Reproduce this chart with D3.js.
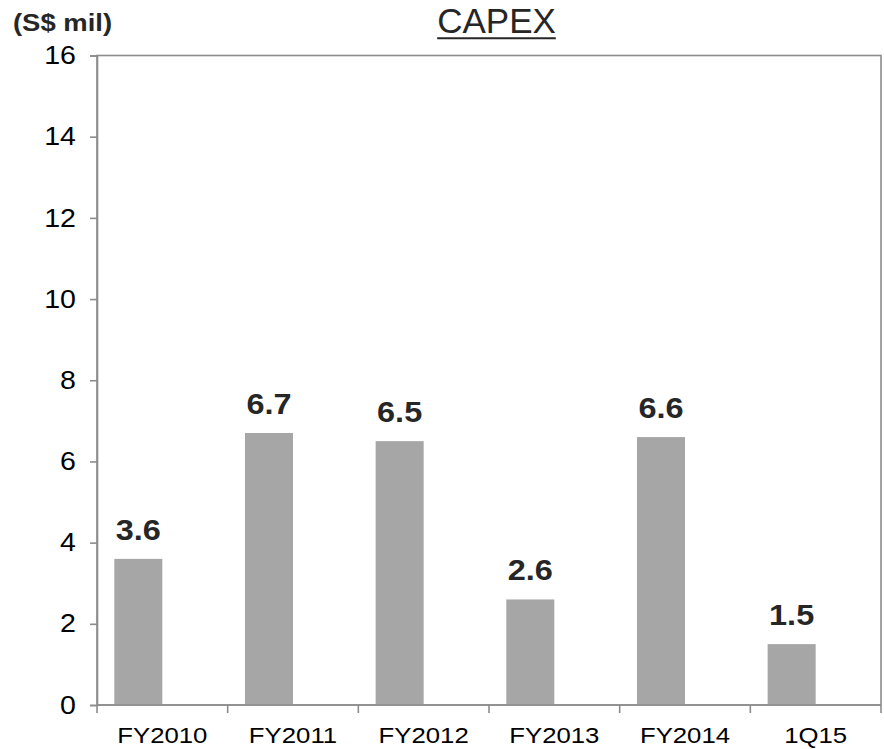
<!DOCTYPE html>
<html>
<head>
<meta charset="utf-8">
<script src="https://cdn.jsdelivr.net/npm/d3@7/dist/d3.min.js"></script>
<style>
  html, body { margin: 0; padding: 0; background: #ffffff; }
  svg { display: block; font-family: "Liberation Sans", Arial, sans-serif; }
</style>
</head>
<body>
<svg id="chart" width="884" height="749"></svg>
<script>
// CAPEX by period, S$ million
const categories = ["FY2010", "FY2011", "FY2012", "FY2013", "FY2014", "1Q15"];
const capex = [3.6, 6.7, 6.5, 2.6, 6.6, 1.5];
const yTicks = [0, 2, 4, 6, 8, 10, 12, 14, 16];

const svg = d3.select("#chart");
const plot = { left: 97, right: 881, top: 55.5, bottom: 705 };
const wide = 1.12; // horizontal stretch applied to the chart's text

// Widen a text selection horizontally around its anchor point
function stretch(sel) {
  sel.each(function () {
    const t = d3.select(this);
    const x0 = +t.attr("x") || 0;
    t.attr("x", x0 / wide).attr("transform", `scale(${wide},1)`);
  });
}

const x = d3.scaleBand().domain(categories).range([plot.left, plot.right]).padding(0);
const y = d3.scaleLinear().domain([0, 16]).range([plot.bottom, plot.top]);

// Each category holds a two-slot cluster; the CAPEX bar sits in the first slot
const slot = d3.scaleBand().domain(["capex", "spare"]).range([0, x.bandwidth()])
  .paddingInner(0).paddingOuter(0.36);

const axisColor = "#8c8c8c";

// Plot frame
svg.append("rect")
  .attr("x", plot.left).attr("y", plot.top)
  .attr("width", plot.right - plot.left).attr("height", plot.bottom - plot.top)
  .attr("fill", "none").attr("stroke", axisColor).attr("stroke-width", 1.6);

const rows = categories.map((c, i) => ({ c, v: capex[i] }));

// Bars
svg.append("g").selectAll("rect")
  .data(rows)
  .join("rect")
  .attr("x", d => x(d.c) + slot("capex"))
  .attr("width", slot.bandwidth())
  .attr("y", d => y(d.v))
  .attr("height", d => y(0) - y(d.v))
  .attr("fill", "#a6a6a6");

// Value labels
svg.append("g").selectAll("text")
  .data(rows)
  .join("text")
  .attr("x", d => x(d.c) + slot("capex") + slot.bandwidth() / 2)
  .attr("y", d => y(d.v) - 19)
  .attr("text-anchor", "middle")
  .attr("font-size", 29).attr("font-weight", "bold").attr("fill", "#262626")
  .text(d => d.v.toFixed(1))
  .call(stretch);

// Y axis
const yAxis = svg.append("g")
  .attr("transform", `translate(${plot.left},0)`)
  .call(d3.axisLeft(y).tickValues(yTicks).tickSize(7).tickPadding(14).tickFormat(d3.format("d")));
yAxis.select(".domain").attr("stroke", axisColor).attr("stroke-width", 1.6);
yAxis.selectAll(".tick line").attr("stroke", axisColor).attr("stroke-width", 1.6);
yAxis.selectAll(".tick text").attr("font-size", 25.5).attr("fill", "#000")
  .attr("font-family", "'Liberation Sans', Arial, sans-serif")
  .call(stretch);

// X axis: tick marks on category boundaries, labels centred in each band
const xAxis = svg.append("g").attr("transform", `translate(0,${plot.bottom})`);
xAxis.append("line")
  .attr("x1", plot.left).attr("x2", plot.right)
  .attr("stroke", axisColor).attr("stroke-width", 1.6);
const bounds = categories.map(c => x(c)).concat([x(categories[categories.length - 1]) + x.bandwidth()]);
xAxis.selectAll("line.tk").data(bounds).join("line")
  .attr("class", "tk")
  .attr("x1", d => d).attr("x2", d => d)
  .attr("y1", 0).attr("y2", 8)
  .attr("stroke", axisColor).attr("stroke-width", 1.6);
xAxis.selectAll("text").data(categories).join("text")
  .attr("x", d => x(d) + x.bandwidth() / 2)
  .attr("y", 38.5)
  .attr("text-anchor", "middle")
  .attr("font-size", 23).attr("fill", "#000")
  .text(d => d)
  .call(stretch);

// Unit label
svg.append("text")
  .attr("x", 13).attr("y", 31)
  .attr("font-size", 24.5).attr("font-weight", "bold").attr("fill", "#262626")
  .text("(S$ mil)")
  .call(stretch);

// Title with underline
const title = svg.append("text")
  .attr("x", 496.5).attr("y", 33)
  .attr("text-anchor", "middle")
  .attr("font-size", 35).attr("fill", "#262626")
  .text("CAPEX");
const tb = title.node().getBBox();
svg.append("line")
  .attr("x1", tb.x).attr("x2", tb.x + tb.width)
  .attr("y1", 38.3).attr("y2", 38.3)
  .attr("stroke", "#262626").attr("stroke-width", 2);
</script>
</body>
</html>
